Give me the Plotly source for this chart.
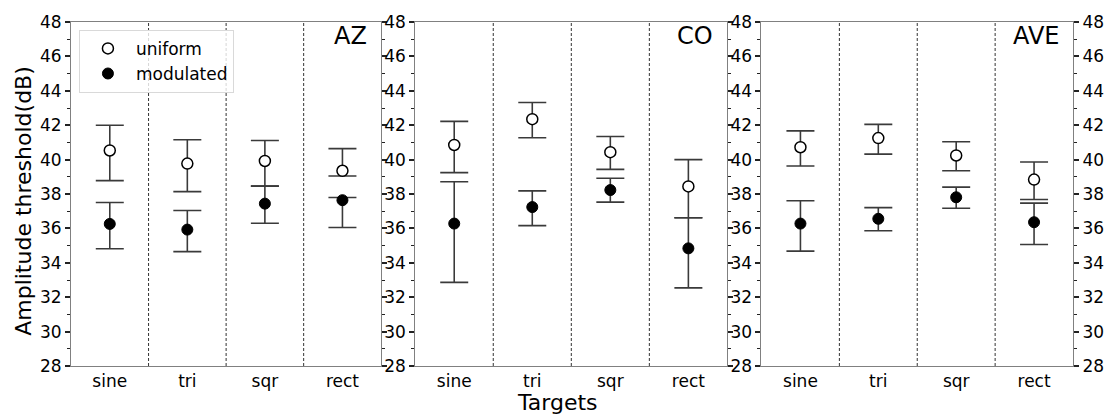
import plotly.graph_objects as go

categories = ["sine", "tri", "sqr", "rect"]
panels = ["AZ", "CO", "AVE"]

# AZ
az_uni_mean = [40.53, 39.77, 39.92, 39.35]
az_uni_hi = [42.00, 41.15, 41.11, 40.64]
az_uni_lo = [38.78, 38.14, 38.46, 39.05]
az_mod_mean = [36.26, 35.93, 37.44, 37.64]
az_mod_hi = [37.51, 37.04, 38.46, 37.80]
az_mod_lo = [34.82, 34.65, 36.30, 36.05]
# CO
co_uni_mean = [40.85, 42.35, 40.43, 38.44]
co_uni_hi = [42.22, 43.32, 41.34, 40.00]
co_uni_lo = [39.24, 41.27, 39.43, 36.62]
co_mod_mean = [36.28, 37.24, 38.23, 34.84]
co_mod_hi = [38.71, 38.18, 38.92, 36.62]
co_mod_lo = [32.86, 36.16, 37.53, 32.54]
# AVE
ave_uni_mean = [40.72, 41.25, 40.24, 38.84]
ave_uni_hi = [41.67, 42.05, 41.04, 39.86]
ave_uni_lo = [39.63, 40.32, 39.35, 37.68]
ave_mod_mean = [36.28, 36.56, 37.81, 36.36]
ave_mod_hi = [37.61, 37.21, 38.40, 37.47]
ave_mod_lo = [34.68, 35.86, 37.17, 35.06]

data = {
    "AZ": (az_uni_mean, az_uni_hi, az_uni_lo, az_mod_mean, az_mod_hi, az_mod_lo),
    "CO": (co_uni_mean, co_uni_hi, co_uni_lo, co_mod_mean, co_mod_hi, co_mod_lo),
    "AVE": (ave_uni_mean, ave_uni_hi, ave_uni_lo, ave_mod_mean, ave_mod_hi, ave_mod_lo),
}

y_range = [28, 48]
y_ticks = list(range(28, 49, 2))

W, H = 1116, 417
ml, mr, mt, mb = 71, 34, 15, 51
pw = W - ml - mr
ph = H - mt - mb
domains = [
    [0.0, 313 / pw],
    [(418.3 - ml) / pw, (733.3 - ml) / pw],
    [(767.7 - ml) / pw, 1.0],
]

FONT = "DejaVu Sans"
ERR_COLOR = "#3a3a3a"
AXIS_COLOR = "#808080"
TICK_SIZE = 17

fig = go.Figure()

for i, p in enumerate(panels):
    um, uh, ul, mm, mh, mlo = data[p]
    xa = "x" if i == 0 else f"x{i+1}"
    ya = "y" if i == 0 else f"y{i+1}"
    fig.add_trace(go.Scatter(
        x=categories, y=um, xaxis=xa, yaxis=ya, mode="markers", name="uniform",
        showlegend=(i == 0), legendgroup="u",
        marker=dict(symbol="circle", size=11, color="white", line=dict(color="black", width=1.5)),
        error_y=dict(type="data", symmetric=False,
                     array=[h - m for h, m in zip(uh, um)],
                     arrayminus=[m - l for m, l in zip(um, ul)],
                     color=ERR_COLOR, thickness=1.6, width=14),
    ))
    fig.add_trace(go.Scatter(
        x=categories, y=mm, xaxis=xa, yaxis=ya, mode="markers", name="modulated",
        showlegend=(i == 0), legendgroup="m",
        marker=dict(symbol="circle", size=11, color="black", line=dict(color="black", width=1)),
        error_y=dict(type="data", symmetric=False,
                     array=[h - m for h, m in zip(mh, mm)],
                     arrayminus=[m - l for m, l in zip(mm, mlo)],
                     color=ERR_COLOR, thickness=1.6, width=14),
    ))
    xkey = "xaxis" if i == 0 else f"xaxis{i+1}"
    ykey = "yaxis" if i == 0 else f"yaxis{i+1}"
    fig.layout[xkey] = dict(
        domain=domains[i], anchor=ya, type="category",
        categoryorder="array", categoryarray=categories,
        range=[-0.5, len(categories) - 0.5],
        showline=True, linecolor=AXIS_COLOR, linewidth=1, mirror=True,
        ticks="", showgrid=False, zeroline=False,
        tickfont=dict(family=FONT, size=TICK_SIZE, color="black"),
    )
    fig.layout[ykey] = dict(
        domain=[0, 1], anchor=xa, range=y_range, tickvals=y_ticks,
        showline=True, linecolor=AXIS_COLOR, linewidth=1, mirror="allticks",
        ticks="outside", ticklen=5, tickwidth=1.5, tickcolor="#222",
        minor=dict(ticks="outside", dtick=1, ticklen=3, tickwidth=1.3, tickcolor="#222"),
        showgrid=False, zeroline=False,
        tickfont=dict(family=FONT, size=TICK_SIZE, color="black"),
    )
    # category separators
    for k in range(len(categories) - 1):
        fig.add_shape(type="line", xref=xa, yref=f"{ya} domain",
                      x0=k + 0.5, x1=k + 0.5, y0=0, y1=1, layer="below",
                      line=dict(color="#333", width=1, dash="3px,2px"))
    fig.add_annotation(text=p, xref=f"{xa} domain", yref=f"{ya} domain",
                       x=0.96, y=1.005, xanchor="right", yanchor="top", showarrow=False,
                       font=dict(family=FONT, size=24, color="black"))

# right-hand labels for last panel
fig.add_trace(go.Scatter(x=[None], y=[None], xaxis="x3", yaxis="y4", showlegend=False,
                         hoverinfo="skip"))
fig.layout["yaxis4"] = dict(
    overlaying="y3", anchor="x3", side="right", range=y_range, tickvals=y_ticks,
    showline=False, ticks="outside", ticklen=5, tickwidth=1.5, tickcolor="#222",
    minor=dict(ticks="outside", dtick=1, ticklen=3, tickwidth=1.3, tickcolor="#222"),
    showgrid=False, zeroline=False,
    tickfont=dict(family=FONT, size=TICK_SIZE, color="black"),
)

fig.add_annotation(text="Targets", xref="paper", yref="paper",
                   x=(562 - ml) / pw, y=(H - mb - 403) / ph,
                   xanchor="center", yanchor="middle", showarrow=False,
                   font=dict(family=FONT, size=22, color="black"))
fig.add_annotation(text="Amplitude threshold(dB)", xref="paper", yref="paper",
                   x=(23 - ml) / pw, y=(H - mb - 197) / ph,
                   xanchor="center", yanchor="middle", textangle=-90, showarrow=False,
                   font=dict(family=FONT, size=22, color="black"))

fig.update_layout(
    width=W, height=H,
    margin=dict(l=ml, r=mr, t=mt, b=mb),
    paper_bgcolor="white", plot_bgcolor="white",
    font=dict(family=FONT, size=17, color="black"),
    legend=dict(x=(79 - ml) / pw, y=1 - (23 - mt) / ph, xanchor="left", yanchor="top",
                bgcolor="rgba(255,255,255,0.8)", bordercolor="#d9d9d9", borderwidth=1,
                font=dict(family=FONT, size=17), itemwidth=46,
                tracegroupgap=0),
)

fig.write_html("out.html")
